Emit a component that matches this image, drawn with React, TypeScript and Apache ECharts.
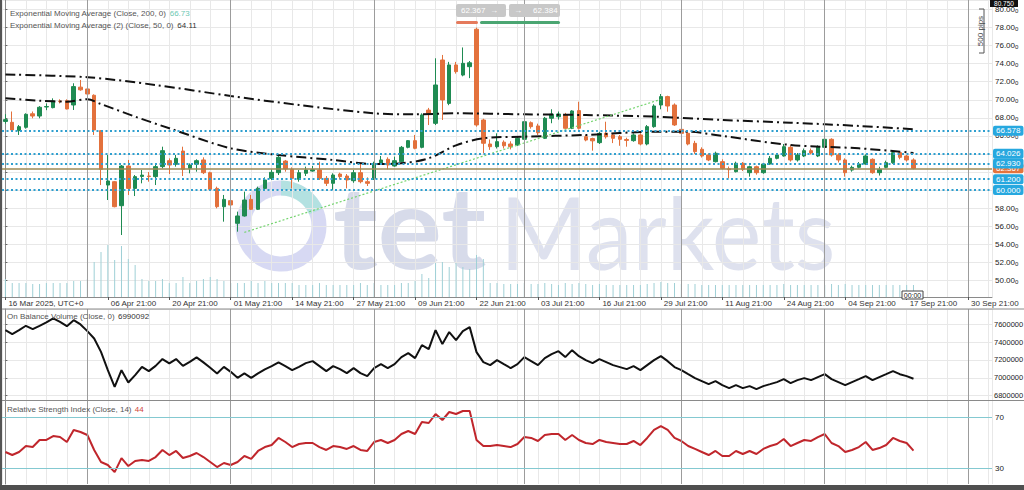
import React, { useEffect, useRef } from "react";
import * as echarts from "echarts";

// ---------- DATA ----------
const MONTHS = ["Jan", "Feb", "Mar", "Apr", "May", "Jun", "Jul", "Aug", "Sep", "Oct", "Nov", "Dec"];
const HOLIDAY_BARS = ["17 Apr 21:00"];
const SLOT_COUNT = 145;

// daily bars opening Sun..Thu 21:00 UTC
const categories: string[] = [];
{
  let t = Date.UTC(2025, 2, 16);
  while (categories.length < SLOT_COUNT) {
    const d = new Date(t);
    const wd = d.getUTCDay();
    const lbl = `${String(d.getUTCDate()).padStart(2, "0")} ${MONTHS[d.getUTCMonth()]} 21:00`;
    if (wd <= 4 && !HOLIDAY_BARS.includes(lbl)) categories.push(lbl);
    t += 86400000;
  }
}

const xTickLabels = [
  "16 Mar 2025, UTC+0", "06 Apr 21:00", "20 Apr 21:00", "01 May 21:00", "14 May 21:00", "27 May 21:00",
  "09 Jun 21:00", "22 Jun 21:00", "03 Jul 21:00", "16 Jul 21:00", "29 Jul 21:00", "11 Aug 21:00",
  "24 Aug 21:00", "04 Sep 21:00", "17 Sep 21:00", "30 Sep 21:00",
];
const monthStartLabels = ["01 Apr 21:00", "01 May 21:00", "01 Jun 21:00", "01 Jul 21:00", "03 Aug 21:00", "01 Sep 21:00", "30 Sep 21:00"];

// [open, close, low, high]
const ohlc: number[][] = [
  [67.60, 67.80, 67.35, 68.40], [67.50, 66.65, 66.60, 68.70], [66.58, 67.02, 66.10, 67.20], [66.95, 68.39, 66.80, 68.50],
  [68.45, 68.20, 67.95, 68.70], [68.20, 69.17, 67.95, 69.30], [69.20, 69.25, 68.85, 69.60], [69.13, 69.87, 69.05, 70.16],
  [69.85, 69.80, 69.60, 70.05], [69.90, 68.98, 68.94, 70.05], [69.42, 71.46, 68.87, 71.83], [71.40, 71.10, 71.00, 72.20],
  [71.20, 70.64, 70.53, 72.20], [70.50, 66.65, 66.10, 70.60], [66.58, 62.29, 60.55, 66.65], [60.55, 61.00, 58.89, 63.88],
  [60.92, 58.15, 58.08, 61.00], [58.26, 62.66, 55.01, 62.77], [62.66, 60.18, 59.45, 63.33], [60.18, 61.48, 59.33, 61.66],
  [61.50, 61.65, 60.74, 62.22], [61.55, 61.50, 60.92, 62.00], [61.48, 62.59, 60.55, 62.77], [62.59, 64.36, 62.40, 64.80],
  [63.25, 62.77, 61.77, 63.51], [62.85, 63.51, 62.59, 63.88], [64.32, 62.29, 61.55, 64.80], [62.40, 62.77, 61.85, 62.95],
  [62.85, 63.25, 62.03, 63.40], [63.33, 61.92, 61.77, 63.62], [61.92, 60.07, 59.93, 62.03], [60.18, 58.15, 57.97, 60.37],
  [58.15, 58.96, 56.49, 59.45], [58.82, 58.34, 58.15, 58.96], [56.31, 57.12, 55.38, 57.60], [57.12, 58.89, 57.05, 59.82],
  [58.96, 57.86, 57.78, 59.45], [57.86, 60.18, 57.78, 60.37], [60.18, 61.11, 59.99, 61.40], [61.29, 61.96, 61.11, 62.29],
  [61.92, 63.62, 61.66, 63.88], [63.21, 62.33, 62.03, 63.33], [62.29, 61.29, 60.18, 62.51], [61.18, 61.92, 60.92, 62.22],
  [61.85, 62.22, 61.55, 62.59], [62.10, 62.25, 62.03, 62.66], [62.22, 61.29, 61.11, 63.14], [61.29, 60.74, 60.44, 61.55],
  [60.74, 61.66, 60.00, 61.85], [61.77, 61.48, 61.18, 61.92], [61.55, 61.11, 60.18, 61.77], [61.03, 61.92, 60.80, 62.22],
  [61.92, 60.92, 60.74, 62.95], [60.92, 60.74, 60.44, 61.40], [61.29, 62.95, 61.11, 63.14], [62.95, 63.33, 62.85, 63.77],
  [63.40, 62.77, 62.29, 63.62], [62.66, 63.25, 62.59, 63.70], [63.14, 64.73, 63.03, 64.88], [64.73, 65.47, 64.62, 65.54],
  [65.47, 64.62, 64.51, 66.10], [64.73, 68.32, 64.62, 68.50], [68.86, 68.50, 67.20, 69.10], [67.39, 71.64, 67.20, 74.60],
  [74.41, 69.98, 67.76, 74.97], [69.60, 73.86, 69.40, 74.20], [73.86, 73.12, 72.90, 74.20], [72.74, 74.04, 72.60, 75.80],
  [73.67, 74.10, 72.40, 74.30], [77.82, 67.21, 67.02, 78.00], [67.76, 65.18, 64.07, 67.90], [65.10, 64.80, 64.45, 65.60],
  [64.80, 65.36, 64.60, 66.28], [65.30, 64.90, 64.60, 65.50], [65.10, 64.80, 64.50, 65.40], [64.99, 65.73, 64.90, 65.90],
  [65.62, 67.57, 65.50, 67.75], [67.46, 67.02, 66.80, 67.60], [67.10, 66.35, 66.10, 67.35], [65.73, 67.95, 65.65, 68.10],
  [67.95, 68.40, 67.40, 68.95], [68.12, 68.42, 67.80, 68.70], [68.31, 66.84, 66.75, 68.55], [66.84, 68.76, 66.75, 68.85],
  [68.80, 66.84, 66.70, 69.79], [65.91, 65.54, 65.40, 66.10], [65.70, 65.45, 64.36, 65.80], [65.25, 66.28, 65.10, 66.45],
  [66.28, 65.90, 65.70, 67.57], [66.10, 65.73, 65.20, 66.25], [65.91, 65.62, 64.90, 66.10], [65.60, 65.50, 64.80, 65.80],
  [65.47, 66.10, 65.35, 66.28], [66.10, 65.10, 64.95, 66.28], [65.10, 67.02, 64.95, 67.20], [67.02, 69.31, 66.90, 69.50],
  [69.42, 70.35, 68.95, 70.64], [70.35, 69.31, 68.68, 70.45], [69.42, 67.21, 67.10, 69.60], [66.72, 66.28, 66.10, 66.84],
  [66.28, 65.10, 64.95, 66.58], [65.17, 64.25, 64.00, 65.45], [64.51, 63.77, 63.60, 64.73], [63.88, 63.33, 63.20, 64.07],
  [63.14, 64.07, 63.05, 64.25], [63.14, 62.40, 62.29, 63.40], [62.35, 62.25, 61.30, 62.60], [62.03, 62.96, 61.95, 63.14],
  [62.96, 62.30, 62.10, 63.10], [61.92, 62.58, 61.48, 62.70], [62.58, 61.92, 61.70, 62.70], [61.92, 62.88, 61.80, 63.00],
  [62.88, 63.51, 62.80, 63.77], [63.51, 63.88, 63.40, 64.10], [63.77, 64.80, 63.70, 65.10], [64.73, 63.33, 63.15, 64.95],
  [63.33, 63.88, 63.15, 64.10], [63.77, 64.36, 63.65, 64.60], [64.36, 64.10, 63.95, 64.60], [63.77, 64.80, 63.65, 64.95],
  [64.73, 65.62, 64.62, 65.73], [65.62, 63.88, 63.70, 65.73], [63.88, 63.33, 63.05, 64.07], [63.33, 61.92, 61.48, 63.51],
  [62.21, 62.51, 62.03, 62.70], [62.51, 62.88, 62.40, 63.10], [62.88, 63.77, 62.80, 63.95], [63.40, 61.92, 61.80, 63.51],
  [61.92, 62.29, 61.60, 62.58], [62.51, 63.03, 62.40, 63.25], [63.03, 64.14, 62.90, 64.25], [64.14, 63.62, 63.40, 64.25],
  [63.77, 63.33, 63.15, 63.88], [63.33, 62.40, 62.29, 63.51],
];

const volume = [
  18, 14, 14, 14, 13, 13, 14, 14, 14, 14, 16, 16, 18, 35, 45, 52, 37, 51, 38, 32,
  18, 16, 16, 18, 14, 14, 20, 14, 16, 18, 20, 18, 16, 14, 14, 14, 16, 14, 16, 14,
  14, 14, 14, 12, 12, 12, 14, 12, 12, 12, 12, 12, 14, 12, 14, 12, 12, 12, 14, 14,
  16, 23, 19, 34, 35, 30, 34, 30, 28, 42, 38, 14, 14, 13, 13, 13, 14, 13, 13, 14,
  13, 12, 14, 13, 14, 13, 12, 13, 12, 12, 12, 12, 12, 12, 13, 14, 15, 14, 14, 13,
  13, 13, 12, 12, 12, 12, 12, 12, 12, 12, 12, 12, 12, 12, 13, 12, 12, 12, 12, 12,
  12, 13, 12, 13, 12, 12, 12, 12, 12, 12, 12, 12, 12, 12,
];

// EMA readings [barIndex, value]
const ema200: number[][] = [
  [0, 72.8], [12, 72.5], [22, 71.64], [33, 70.42], [43, 69.42], [54, 68.5], [60, 68.39], [66, 68.5],
  [76, 68.39], [85, 68.31], [95, 68.13], [105, 67.76], [115, 67.46], [125, 67.1], [133, 66.73],
];
const ema50: number[][] = [
  [0, 70.17], [5, 69.9], [9, 69.79], [12, 70.06], [14, 69.53], [19, 68.13], [24, 66.84], [33, 64.62],
  [40, 63.88], [48, 63.33], [54, 62.88], [58, 62.96], [62, 63.51], [66, 64.95], [70, 65.73], [76, 65.91],
  [85, 66.1], [95, 66.46], [100, 66.46], [105, 65.99], [115, 64.99], [125, 64.62], [133, 64.11],
];
const trendLine: number[][] = [[35, 55.3], [96, 70.05]];

const levels = [66.578, 64.026, 62.93, 61.2, 60.0];
const coveredPriceLabels = [60, 62, 64];
const lastPrice = 62.4;
const lastPriceLabel = "62.367";

const obv = [
  7534000, 7490000, 7534000, 7583000, 7546000, 7583000, 7621000, 7666000, 7627000, 7579000,
  7646000, 7598000, 7523000, 7441000, 7291000, 7086000, 6899000, 7086000, 6948000, 7030000,
  7123000, 7075000, 7134000, 7210000, 7161000, 7210000, 7134000, 7179000, 7229000, 7173000,
  7112000, 7049000, 7123000, 7067000, 7000000, 7049000, 7000000, 7049000, 7094000, 7131000,
  7173000, 7131000, 7086000, 7123000, 7165000, 7187000, 7131000, 7075000, 7131000, 7097000,
  7053000, 7109000, 7053000, 7019000, 7109000, 7153000, 7109000, 7153000, 7232000, 7277000,
  7221000, 7366000, 7322000, 7534000, 7378000, 7512000, 7422000, 7523000, 7568000, 7288000,
  7176000, 7142000, 7198000, 7153000, 7109000, 7153000, 7232000, 7187000, 7142000, 7221000,
  7266000, 7299000, 7232000, 7310000, 7243000, 7198000, 7165000, 7210000, 7176000, 7142000,
  7120000, 7097000, 7131000, 7086000, 7142000, 7198000, 7243000, 7187000, 7120000, 7086000,
  7041000, 6997000, 6963000, 6929000, 6963000, 6918000, 6885000, 6918000, 6885000, 6907000,
  6873000, 6907000, 6929000, 6952000, 6985000, 6941000, 6974000, 6997000, 6974000, 7008000,
  7041000, 6985000, 6952000, 6918000, 6952000, 6985000, 7019000, 6974000, 7008000, 7041000,
  7075000, 7041000, 7019000, 6990092,
];

const rsi = [
  42.9, 40.5, 42.9, 47.6, 46.8, 52.4, 52.4, 55.5, 54.7, 50.8,
  60.3, 58.7, 56.3, 44.5, 35.0, 32.6, 27.0, 38.1, 31.8, 35.8,
  36.6, 35.8, 38.9, 44.5, 40.5, 43.7, 38.1, 39.7, 42.1, 38.9,
  35.0, 31.0, 34.2, 32.6, 35.0, 39.7, 37.4, 43.7, 46.8, 48.4,
  54.0, 50.8, 46.8, 49.2, 50.0, 50.0, 46.8, 44.5, 47.6, 46.8,
  45.3, 47.6, 44.5, 43.7, 50.8, 52.4, 50.0, 52.4, 57.1, 59.5,
  57.1, 66.6, 65.8, 72.9, 68.2, 74.5, 72.9, 75.3, 75.3, 52.4,
  47.6, 47.6, 48.4, 47.6, 46.8, 49.2, 54.7, 54.0, 51.6, 56.3,
  57.1, 57.1, 52.4, 56.3, 52.4, 50.0, 49.2, 52.4, 50.8, 50.0,
  49.2, 49.2, 51.6, 48.4, 54.0, 60.3, 63.4, 60.3, 54.0, 51.6,
  47.6, 45.3, 42.9, 40.5, 43.7, 39.7, 39.7, 43.7, 41.3, 43.7,
  41.3, 45.3, 47.6, 49.2, 53.2, 47.6, 50.0, 52.4, 51.6, 54.7,
  57.1, 50.0, 47.6, 42.9, 44.5, 46.8, 50.8, 44.5, 46.0, 48.4,
  54.0, 51.6, 50.0, 44.0,
];

// ---------- CHART ----------
const FONT = "Liberation Sans, Arial, sans-serif";
const UP = "#1f8b52";
const DOWN = "#e3713c";
const GRIDLINE = "#e8e8e8";
const AXIS = "#8a8a8a";
const LEVEL = "#2f9fcf";

export default function App() {
  const ref = useRef<HTMLDivElement>(null);

  useEffect(() => {
    if (!ref.current) return;
    const chart = echarts.init(ref.current, undefined, { renderer: "svg" });

    const tickIdx = xTickLabels.map((l, i) => (i === 0 ? 0 : categories.indexOf(l))).filter((v) => v >= 0);
    const tickText: Record<number, string> = {};
    xTickLabels.forEach((l, i) => {
      const idx = i === 0 ? 0 : categories.indexOf(l);
      if (idx >= 0) tickText[idx] = l;
    });
    const monthIdx = monthStartLabels.map((l) => categories.indexOf(l)).filter((v) => v >= 0);
    const showTick = (i: number) => tickIdx.includes(i);

    const monthLines = monthIdx.map((m) => ({
      xAxis: m,
      lineStyle: { color: "#9c9c9c", width: 1, type: "solid" },
      label: { show: false },
    }));

    const gridLineAxis = (g: number) => ({
      type: "value",
      gridIndex: g,
      min: -0.5,
      max: SLOT_COUNT - 0.5,
      minInterval: 3,
      maxInterval: 3,
      position: "top",
      axisLine: { show: false },
      axisTick: { show: false },
      axisLabel: { show: false },
      splitLine: { show: true, lineStyle: { color: GRIDLINE, width: 1 } },
    });

    const catAxis = (g: number) => ({
      type: "category",
      gridIndex: g,
      data: categories,
      boundaryGap: true,
      axisLine: { show: false },
      axisTick: { show: false },
      axisLabel: { show: false },
      splitLine: { show: false },
    });

    const option: any = {
      animation: false,
      backgroundColor: "#ffffff",
      textStyle: { fontFamily: FONT },
      grid: [
        { left: 2, right: 32, top: 0, height: 297, outerBoundsMode: "none" },
        { left: 2, right: 32, top: 309, height: 91.5, outerBoundsMode: "none" },
        { left: 2, right: 32, top: 401, height: 83, outerBoundsMode: "none" },
      ],
      xAxis: [
        {
          type: "category",
          gridIndex: 0,
          data: categories,
          boundaryGap: true,
          axisLine: { show: true, lineStyle: { color: AXIS } },
          axisTick: { show: true, alignWithLabel: true, interval: (i: number) => showTick(i), length: 3, lineStyle: { color: "#555" } },
          axisLabel: {
            interval: (i: number) => showTick(i),
            formatter: (v: string, i: number) => tickText[i] ?? v,
            align: "left",
            padding: [0, 0, 0, 3],
            margin: 2,
            fontSize: 8,
            color: "#333",
            fontFamily: FONT,
          },
          splitLine: { show: false },
        },
        catAxis(1),
        catAxis(2),
        gridLineAxis(0),
        gridLineAxis(1),
        gridLineAxis(2),
      ],
      yAxis: [
        {
          type: "value",
          gridIndex: 0,
          position: "right",
          min: 48.14,
          max: 81.06,
          minInterval: 2,
          maxInterval: 2,
          axisLine: { show: true, lineStyle: { color: AXIS } },
          axisTick: { show: true, length: 2, lineStyle: { color: "#666" } },
          axisLabel: {
            margin: 3,
            showMinLabel: false,
            showMaxLabel: false,
            formatter: (v: number) =>
              coveredPriceLabels.some((c) => Math.abs(c - v) < 1e-6) ? "" : `{a|${v.toFixed(2)}}{b|0}`,
            rich: {
              a: { fontSize: 8, color: "#222", fontFamily: FONT },
              b: { fontSize: 6, color: "#222", fontFamily: FONT, padding: [3, 0, 0, 0] },
            },
          },
          splitLine: { show: true, lineStyle: { color: GRIDLINE } },
        },
        { type: "value", gridIndex: 0, min: 0, max: 297, show: false },
        {
          type: "value",
          gridIndex: 1,
          position: "right",
          min: 6746000,
          max: 7771000,
          minInterval: 200000,
          maxInterval: 200000,
          axisLine: { show: true, lineStyle: { color: AXIS } },
          axisTick: { show: true, length: 2, lineStyle: { color: "#666" } },
          axisLabel: {
            margin: 2,
            fontSize: 7.5,
            color: "#222",
            showMinLabel: false,
            showMaxLabel: false,
            formatter: (v: number) => String(Math.round(v)),
          },
          splitLine: { show: true, lineStyle: { color: GRIDLINE } },
        },
        {
          type: "value",
          gridIndex: 2,
          position: "right",
          min: 17.6,
          max: 83.2,
          minInterval: 10,
          maxInterval: 10,
          axisLine: { show: true, lineStyle: { color: AXIS } },
          axisTick: { show: false },
          axisLabel: {
            margin: 3,
            fontSize: 8,
            color: "#222",
            formatter: (v: number) => (v === 70 || v === 30 ? String(v) : ""),
          },
          splitLine: { show: false },
        },
      ],
      series: [
        {
          name: "Volume",
          type: "bar",
          xAxisIndex: 0,
          yAxisIndex: 1,
          data: volume,
          barWidth: 1,
          itemStyle: { color: "#9fd0d6" },
          silent: true,
          z: 1,
        },
        {
          name: "Price",
          type: "candlestick",
          xAxisIndex: 0,
          yAxisIndex: 0,
          data: ohlc,
          barWidth: 4,
          itemStyle: { color: UP, color0: DOWN, borderColor: UP, borderColor0: DOWN, borderWidth: 1 },
          z: 3,
          markLine: {
            silent: true,
            symbol: ["none", "none"],
            animation: false,
            data: [
              ...monthLines,
              {
                yAxis: lastPrice,
                lineStyle: { color: "#9c8a55", width: 1.5, type: "solid" },
                label: {
                  show: true,
                  position: "end",
                  distance: 1,
                  formatter: lastPriceLabel,
                  backgroundColor: "#e4743d",
                  color: "#fff",
                  fontSize: 8,
                  padding: [1, 3, 1, 3],
                  borderRadius: 2,
                },
              },
              ...levels.map((lv) => ({
                yAxis: lv,
                lineStyle: { color: LEVEL, width: 2, type: [2, 2.5] },
                label: {
                  show: true,
                  position: "end",
                  distance: 1,
                  formatter: lv.toFixed(3),
                  backgroundColor: "#27a8df",
                  color: "#fff",
                  fontSize: 8,
                  padding: [1, 3, 1, 3],
                  borderRadius: 2,
                },
              })),
            ],
          },
        },
        {
          name: "EMA 200",
          type: "line",
          xAxisIndex: 0,
          yAxisIndex: 0,
          data: ema200,
          symbol: "none",
          smooth: 0.3,
          lineStyle: { color: "#111", width: 2, type: [10, 4, 2, 4] },
          z: 4,
        },
        {
          name: "EMA 50",
          type: "line",
          xAxisIndex: 0,
          yAxisIndex: 0,
          data: ema50,
          symbol: "none",
          smooth: 0.3,
          lineStyle: { color: "#111", width: 2, type: [10, 4, 2, 4] },
          z: 4,
        },
        {
          name: "Trend",
          type: "line",
          xAxisIndex: 0,
          yAxisIndex: 0,
          data: trendLine,
          symbol: "none",
          lineStyle: { color: "#74d46e", width: 1.2, type: [2, 2] },
          z: 4,
        },
        {
          name: "OBV",
          type: "line",
          xAxisIndex: 1,
          yAxisIndex: 2,
          data: obv,
          symbol: "none",
          lineStyle: { color: "#111", width: 2 },
          markLine: {
            silent: true,
            symbol: ["none", "none"],
            data: monthLines,
          },
        },
        {
          name: "RSI",
          type: "line",
          xAxisIndex: 2,
          yAxisIndex: 3,
          data: rsi,
          symbol: "none",
          lineStyle: { color: "#c0262c", width: 2 },
          markLine: {
            silent: true,
            symbol: ["none", "none"],
            data: [
              ...monthLines,
              { yAxis: 70, lineStyle: { color: "#84c9d1", width: 1, type: "solid" }, label: { show: false } },
              { yAxis: 30, lineStyle: { color: "#84c9d1", width: 1, type: "solid" }, label: { show: false } },
            ],
          },
        },
      ],
      graphic: [
        // watermark
        {
          type: "group",
          z: 1,
          silent: true,
          children: [
            {
              type: "arc",
              shape: { cx: 281, cy: 226, r: 38, startAngle: 0, endAngle: Math.PI * 2 },
              style: { stroke: "rgba(175,180,232,0.5)", lineWidth: 15, fill: "none" },
            },
            {
              type: "arc",
              shape: { cx: 281, cy: 226, r: 38, startAngle: -Math.PI / 2, endAngle: -Math.PI / 8 },
              style: { stroke: "rgba(150,232,210,0.55)", lineWidth: 15, fill: "none" },
            },
            {
              type: "text",
              x: 333,
              y: 225,
              scaleX: 1.05,
              style: { text: "tet", font: "bold 115px Lato, sans-serif", fill: "rgba(150,160,200,0.38)", verticalAlign: "middle", align: "left" },
            },
            {
              type: "text",
              x: 500,
              y: 231,
              scaleX: 0.94,
              style: { text: "Markets", font: "100px Lato, sans-serif", fill: "rgba(160,168,205,0.35)", verticalAlign: "middle", align: "left" },
            },
          ],
        },
        // titles
        {
          type: "text",
          x: 10,
          y: 13,
          z: 10,
          style: {
            text: "{a|Exponential Moving Average (Close, 200, 0)} {b|66.73}",
            verticalAlign: "middle",
            rich: {
              a: { fill: "#555", fontSize: 8, fontFamily: FONT },
              b: { fill: "#6cc8b2", fontSize: 8, fontFamily: FONT },
            },
          },
        },
        {
          type: "text",
          x: 10,
          y: 25,
          z: 10,
          style: {
            text: "{a|Exponential Moving Average (2) (Close, 50, 0)} {b|64.11}",
            verticalAlign: "middle",
            rich: {
              a: { fill: "#555", fontSize: 8, fontFamily: FONT },
              b: { fill: "#333", fontSize: 8, fontFamily: FONT },
            },
          },
        },
        {
          type: "text",
          x: 7,
          y: 316,
          z: 10,
          style: {
            text: "{a|On Balance Volume (Close, 0)} {b|6990092}",
            verticalAlign: "middle",
            rich: {
              a: { fill: "#555", fontSize: 8, fontFamily: FONT },
              b: { fill: "#333", fontSize: 8, fontFamily: FONT },
            },
          },
        },
        {
          type: "text",
          x: 7,
          y: 409,
          z: 10,
          style: {
            text: "{a|Relative Strength Index (Close, 14)} {b|44}",
            verticalAlign: "middle",
            rich: {
              a: { fill: "#555", fontSize: 8, fontFamily: FONT },
              b: { fill: "#d0453a", fontSize: 8, fontFamily: FONT },
            },
          },
        },
        // bid / ask boxes
        { type: "rect", z: 10, shape: { x: 456, y: 4, width: 50, height: 13, r: 2 }, style: { fill: "#c8c8c8" } },
        { type: "text", z: 11, x: 461, y: 10.5, style: { text: "62.367  \u2192", fill: "#fff", fontSize: 8, fontFamily: FONT, verticalAlign: "middle" } },
        { type: "rect", z: 10, shape: { x: 509, y: 4, width: 51, height: 13, r: 2 }, style: { fill: "#c8c8c8" } },
        { type: "text", z: 11, x: 514, y: 10.5, style: { text: "\u2192     62.384", fill: "#fff", fontSize: 8, fontFamily: FONT, verticalAlign: "middle" } },
        { type: "rect", z: 10, shape: { x: 456, y: 21, width: 22, height: 3, r: 1.5 }, style: { fill: "#e57a5c" } },
        { type: "rect", z: 10, shape: { x: 480, y: 21, width: 80, height: 3, r: 1.5 }, style: { fill: "#4ba672" } },
        // top price box
        { type: "rect", z: 10, shape: { x: 990, y: 0, width: 28, height: 7 }, style: { fill: "#111" } },
        { type: "text", z: 11, x: 1004, y: 3.5, style: { text: "80.750", fill: "#fff", fontSize: 6.5, fontFamily: FONT, align: "center", verticalAlign: "middle" } },
        // 500 pips bracket
        { type: "polyline", z: 10, shape: { points: [[979, 9], [984, 9], [984, 53], [979, 53]] }, style: { stroke: "#555", lineWidth: 1, fill: "none" } },
        { type: "text", z: 10, x: 980, y: 31, rotation: Math.PI / 2, style: { text: "500 pips", fill: "#444", fontSize: 8, fontFamily: FONT, align: "center", verticalAlign: "middle" } },
        // countdown box
        { type: "rect", z: 10, shape: { x: 902, y: 291, width: 21, height: 8 }, style: { fill: "#fff", stroke: "#444", lineWidth: 1 } },
        { type: "text", z: 11, x: 912.5, y: 295.5, style: { text: "00:00", fill: "#222", fontSize: 7, fontFamily: FONT, align: "center", verticalAlign: "middle" } },
        // panel separators
        { type: "line", z: 10, shape: { x1: 0, y1: 309, x2: 1024, y2: 309 }, style: { stroke: AXIS, lineWidth: 1 } },
        { type: "line", z: 10, shape: { x1: 0, y1: 400.5, x2: 1024, y2: 400.5 }, style: { stroke: AXIS, lineWidth: 1 } },
        // frame
        { type: "rect", z: 12, shape: { x: 0, y: 0, width: 2, height: 490 }, style: { fill: "#555" } },
        { type: "rect", z: 12, shape: { x: 0, y: 485, width: 1024, height: 5 }, style: { fill: "#4f4f4f" } },
      ],
    };

    chart.setOption(option);
    return () => chart.dispose();
  }, []);

  return <div ref={ref} style={{ width: 1024, height: 490, position: "absolute", left: 0, top: 0 }} />;
}
